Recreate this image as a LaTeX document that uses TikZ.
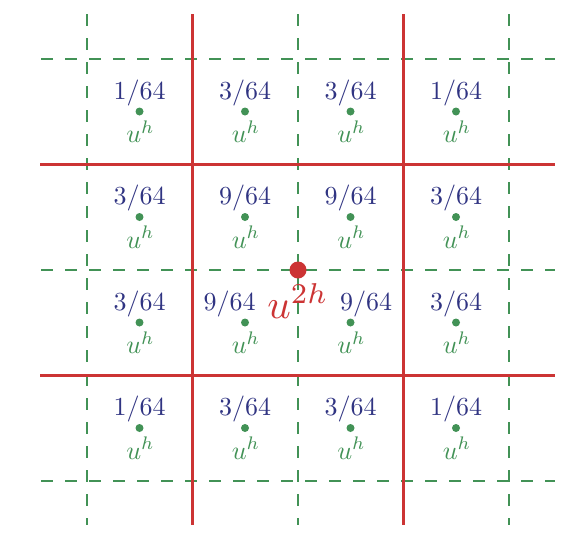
\documentclass[tikz,border=0pt]{standalone}
\usepackage{graphicx}
\definecolor{gr}{RGB}{66,146,86}
\definecolor{rd}{RGB}{204,52,52}
\definecolor{bl}{RGB}{48,52,130}
\newcommand{\wtxt}[1]{\scalebox{2.6}{$#1$}}
\newcommand{\btxt}[1]{\scalebox{4.1}{$#1$}}
\begin{document}
\begin{tikzpicture}[x=1pt,y=-1pt,
  fine/.style={gr, line width=1.4pt, dash pattern=on 12pt off 12pt},
  coarse/.style={rd, line width=2.6pt},
  wt/.style={text=bl, anchor=base, inner sep=0pt},
  uh/.style={text=gr, anchor=base, inner sep=0pt},
  dot/.style={circle, fill=gr, inner sep=0pt, minimum size=8pt},
  bigdot/.style={circle, fill=rd, inner sep=0pt, minimum size=17pt},
  u2h/.style={text=rd, anchor=base, inner sep=0pt}]
\useasboundingbox (0,0) rectangle (578,536);
% fine grid (dashed)
\foreach \x in {87,298,509} \draw[fine] (\x,14) -- (\x,525);
\foreach \y in {59,270,481} \draw[fine] (41,\y) -- (555,\y);
% coarse grid
\foreach \x in {192.5,403.5} \draw[coarse] (\x,14) -- (\x,525);
\foreach \y in {164.5,375.5} \draw[coarse] (40,\y) -- (555,\y);
% fine points
\foreach \c/\cx in {1/139.5,2/245,3/350.5,4/456}
  \foreach \r/\cy in {1/111.5,2/217,3/322.5,4/428} {
    \node[dot] (d\r\c) at (\cx,\cy) {};
    \node[uh] (u\r\c) at ([xshift=1pt,yshift=-31pt]d\r\c.center) {\wtxt{u^h}};
  }
% weights
\node[wt] (w11) at ([yshift=12.5pt]d11.center) {\wtxt{1/64}};
\node[wt] (w12) at ([yshift=12.5pt]d12.center) {\wtxt{3/64}};
\node[wt] (w13) at ([yshift=12.5pt]d13.center) {\wtxt{3/64}};
\node[wt] (w14) at ([yshift=12.5pt]d14.center) {\wtxt{1/64}};
\node[wt] (w21) at ([yshift=12.5pt]d21.center) {\wtxt{3/64}};
\node[wt] (w22) at ([yshift=12.5pt]d22.center) {\wtxt{9/64}};
\node[wt] (w23) at ([yshift=12.5pt]d23.center) {\wtxt{9/64}};
\node[wt] (w24) at ([yshift=12.5pt]d24.center) {\wtxt{3/64}};
\node[wt] (w31) at ([yshift=12.5pt]d31.center) {\wtxt{3/64}};
\node[wt] (w32) at ([xshift=-15.5pt,yshift=12.5pt]d32.center) {\wtxt{9/64}};
\node[wt] (w33) at ([xshift=15.5pt,yshift=12.5pt]d33.center) {\wtxt{9/64}};
\node[wt] (w34) at ([yshift=12.5pt]d34.center) {\wtxt{3/64}};
\node[wt] (w41) at ([yshift=12.5pt]d41.center) {\wtxt{1/64}};
\node[wt] (w42) at ([yshift=12.5pt]d42.center) {\wtxt{3/64}};
\node[wt] (w43) at ([yshift=12.5pt]d43.center) {\wtxt{3/64}};
\node[wt] (w44) at ([yshift=12.5pt]d44.center) {\wtxt{1/64}};
% coarse point
\node[bigdot] (c) at (298,270) {};
\node[u2h] (cu) at ([yshift=-48pt]c.center) {\btxt{u^{2h}}};
\end{tikzpicture}
\end{document}
